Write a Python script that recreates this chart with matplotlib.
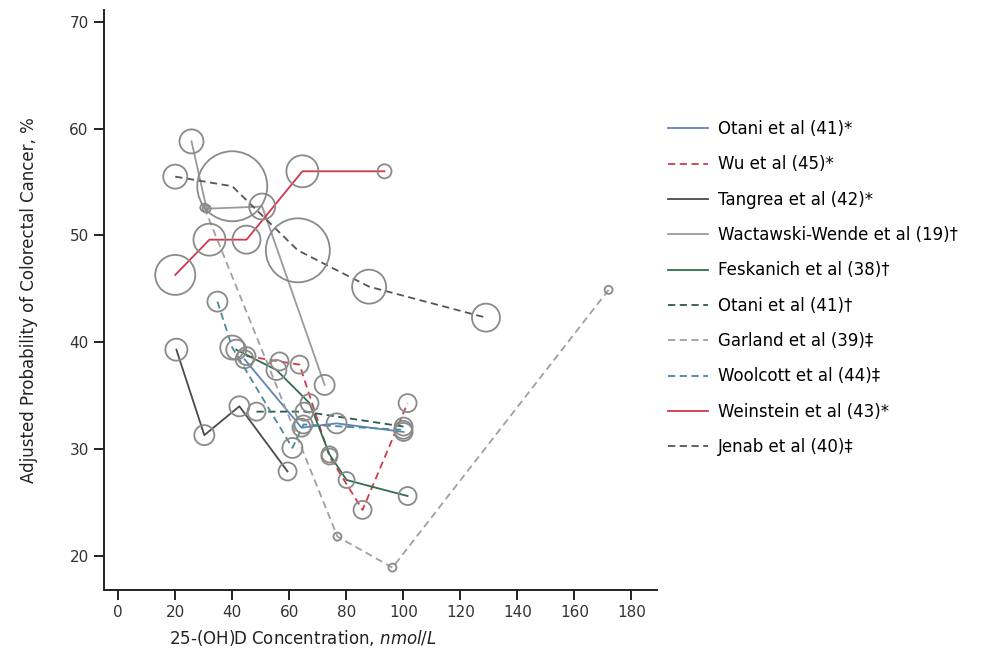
import matplotlib
matplotlib.use("Agg")
import matplotlib.pyplot as plt

plt.rcParams['font.family'] = ['DejaVu Sans']

# Data: 25-(OH)D (nmol/L), adjusted probability (%), bubble weight (radius)
otani1_x = [44.3, 64.3, 76.6, 100.1]
otani1_y = [38.4, 32.0, 32.4, 31.6]
otani1_w = [9, 9, 10, 9]

wu_x = [45.0, 56.6, 63.6, 74.1, 85.7, 101.5]
wu_y = [38.7, 38.2, 37.9, 29.3, 24.3, 34.3]
wu_w = [9, 9, 9, 8, 9, 9]

tangrea_x = [20.4, 30.2, 42.5, 59.4]
tangrea_y = [39.3, 31.3, 34.0, 27.9]
tangrea_w = [11, 10, 10, 9]

ww_x = [25.7, 31.0, 50.5, 72.4]
ww_y = [58.8, 52.5, 52.7, 36.0]
ww_w = [12, 4, 13, 10]

fesk_x = [41.4, 55.5, 67.1, 74.1, 80.1, 101.5]
fesk_y = [39.3, 37.4, 34.3, 29.5, 27.1, 25.6]
fesk_w = [10, 10, 9, 8, 8, 9]

otani2_x = [48.5, 65.3, 100.1]
otani2_y = [33.5, 33.5, 32.1]
otani2_w = [9, 9, 9]

garland_x = [30.2, 76.9, 96.2, 172.0]
garland_y = [52.6, 21.8, 18.9, 44.9]
garland_w = [4, 4, 4, 4]

wool_x = [34.8, 40.0, 61.1, 65.0, 100.0]
wool_y = [43.8, 39.5, 30.1, 32.3, 31.8]
wool_w = [10, 12, 10, 9, 9]

wein_x = [20.0, 32.0, 45.0, 64.6, 93.4]
wein_y = [46.3, 49.6, 49.6, 56.0, 56.0]
wein_w = [20, 16, 14, 16, 7]

jenab_x = [20.0, 40.0, 63.0, 88.0, 129.0]
jenab_y = [55.5, 54.6, 48.6, 45.2, 42.3]
jenab_w = [12, 35, 32, 17, 14]

series = [
    ("Otani et al (41)*", otani1_x, otani1_y, otani1_w, "#5b84b8", "-"),
    ("Wu et al (45)*", wu_x, wu_y, wu_w, "#d23a4c", (0, (4, 2.5))),
    ("Tangrea et al (42)*", tangrea_x, tangrea_y, tangrea_w, "#4a4a4a", "-"),
    ("Wactawski-Wende et al (19)\u2020", ww_x, ww_y, ww_w, "#9a9a9a", "-"),
    ("Feskanich et al (38)\u2020", fesk_x, fesk_y, fesk_w, "#2f6e4e", "-"),
    ("Otani et al (41)\u2020", otani2_x, otani2_y, otani2_w, "#2c5a52", (0, (4, 2.5))),
    ("Garland et al (39)\u2021", garland_x, garland_y, garland_w, "#a0a0a0", (0, (4, 2.5))),
    ("Woolcott et al (44)\u2021", wool_x, wool_y, wool_w, "#4a8a9c", (0, (4, 2.5))),
    ("Weinstein et al (43)*", wein_x, wein_y, wein_w, "#d3364c", "-"),
    ("Jenab et al (40)\u2021", jenab_x, jenab_y, jenab_w, "#555555", (0, (4, 2.5))),
]

fig = plt.figure(figsize=(9.94, 6.67), dpi=100)
ax = fig.add_axes([0.1046, 0.1154, 0.5564, 0.8696])

for label, xs, ys, ws, color, ls in series:
    ax.plot(xs, ys, color=color, linestyle=ls, linewidth=1.3, label=label, zorder=2)
    sizes = [(1.44 * w) ** 2 for w in ws]
    ax.scatter(xs, ys, s=sizes, facecolors="none", edgecolors="#8a8a8a",
               linewidths=1.3, zorder=3)

ax.set_xlim(-5, 189)
ax.set_ylim(16.8, 71.1)
ax.set_xticks(range(0, 181, 20))
ax.set_yticks(range(20, 71, 10))
for side in ["top", "right"]:
    ax.spines[side].set_visible(False)
for side in ["left", "bottom"]:
    ax.spines[side].set_linewidth(1.4)
    ax.spines[side].set_color("#222222")
ax.tick_params(direction="out", length=7, width=1.4, color="#222222",
               labelsize=11, labelcolor="#333333", pad=4)

ax.set_ylabel("Adjusted Probability of Colorectal Cancer, %", fontsize=12, color="#222222")
ax.yaxis.set_label_coords(-0.12, 0.5)
ax.set_xlabel("25-(OH)D Concentration, $\\mathit{nmol/L}$", fontsize=12, color="#222222")
ax.xaxis.set_label_coords(0.36, -0.065)

fig.legend(loc="upper left", bbox_to_anchor=(0.665, 0.830), frameon=False,
           fontsize=12, handlelength=2.4, handletextpad=0.6, labelspacing=1.04,
           borderaxespad=0)

fig.savefig("out.png", dpi=100)
